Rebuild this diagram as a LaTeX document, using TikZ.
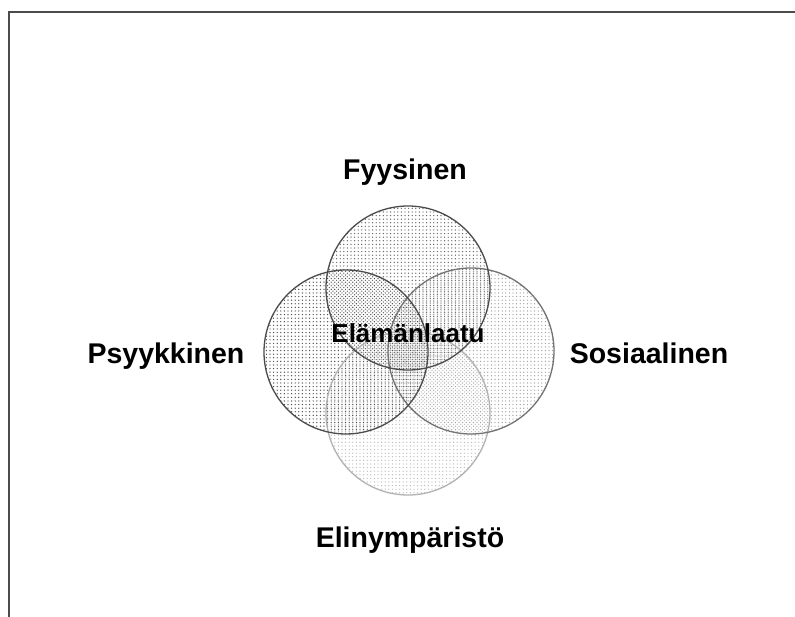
\documentclass[tikz,border=0pt]{standalone}
\usepackage{fontspec}
\setmainfont{Liberation Sans}
\usetikzlibrary{patterns.meta}
\tikzdeclarepattern{name=dotsA,type=uncolored,bounding box={(-1pt,-1pt) and (1pt,1pt)},tile size={(3.6pt,3.6pt)},tile transformation={shift={(0pt,0pt)}},code={\fill (0,0) circle (0.7pt);}}
\tikzdeclarepattern{name=dotsB,type=uncolored,bounding box={(-1pt,-1pt) and (1pt,1pt)},tile size={(3.6pt,3.6pt)},tile transformation={shift={(1.8pt,1.8pt)}},code={\fill (0,0) circle (0.7pt);}}
\tikzdeclarepattern{name=dotsC,type=uncolored,bounding box={(-1pt,-1pt) and (1pt,1pt)},tile size={(3.6pt,3.6pt)},tile transformation={shift={(1.8pt,0pt)}},code={\fill (0,0) circle (0.65pt);}}
\tikzdeclarepattern{name=dotsD,type=uncolored,bounding box={(-1pt,-1pt) and (1pt,1pt)},tile size={(3.6pt,3.6pt)},tile transformation={shift={(0pt,1.8pt)}},code={\fill (0,0) circle (0.65pt);}}
\tikzset{
  lbl/.style={font=\fontsize{28.5}{32}\selectfont\bfseries, anchor=base, inner sep=0pt},
  ctr/.style={font=\fontsize{26}{30}\selectfont\bfseries, anchor=base, inner sep=0pt},
  frameline/.style={line width=2pt, draw=black!70},
  ring/.style={line width=1.3pt}
}
\begin{document}
\begin{tikzpicture}[x=1pt,y=-1pt]
\useasboundingbox (0,0) rectangle (795,617);
\fill[white] (0,0) rectangle (795,617);
\draw[frameline] (9,617) -- (9,12) -- (795,12);
% fills
\fill[pattern=dotsA, pattern color=black!70] (346,352) circle (82);
\fill[pattern=dotsB, pattern color=black!60] (408,288) circle (82);
\fill[pattern=dotsC, pattern color=black!40] (471,351) circle (83);
\fill[pattern=dotsD, pattern color=black!28] (408,413) circle (82);
% outlines
\draw[ring, draw=black!30] (408,413) circle (82);
\draw[ring, draw=black!55] (471,351) circle (83);
\draw[ring, draw=black!70] (346,352) circle (82);
\draw[ring, draw=black!70] (408,288) circle (82);
% labels
\node[lbl] (fyys) at (405,180) {Fyysinen};
\node[lbl] (psyk) at (166,363) {Psyykkinen};
\node[lbl] (sos) at (649,364) {Sosiaalinen};
\node[lbl] (elin) at (410,547) {Elinympäristö};
\node[ctr] (ela) at (408,343) {Elämänlaatu};
\end{tikzpicture}
\end{document}
